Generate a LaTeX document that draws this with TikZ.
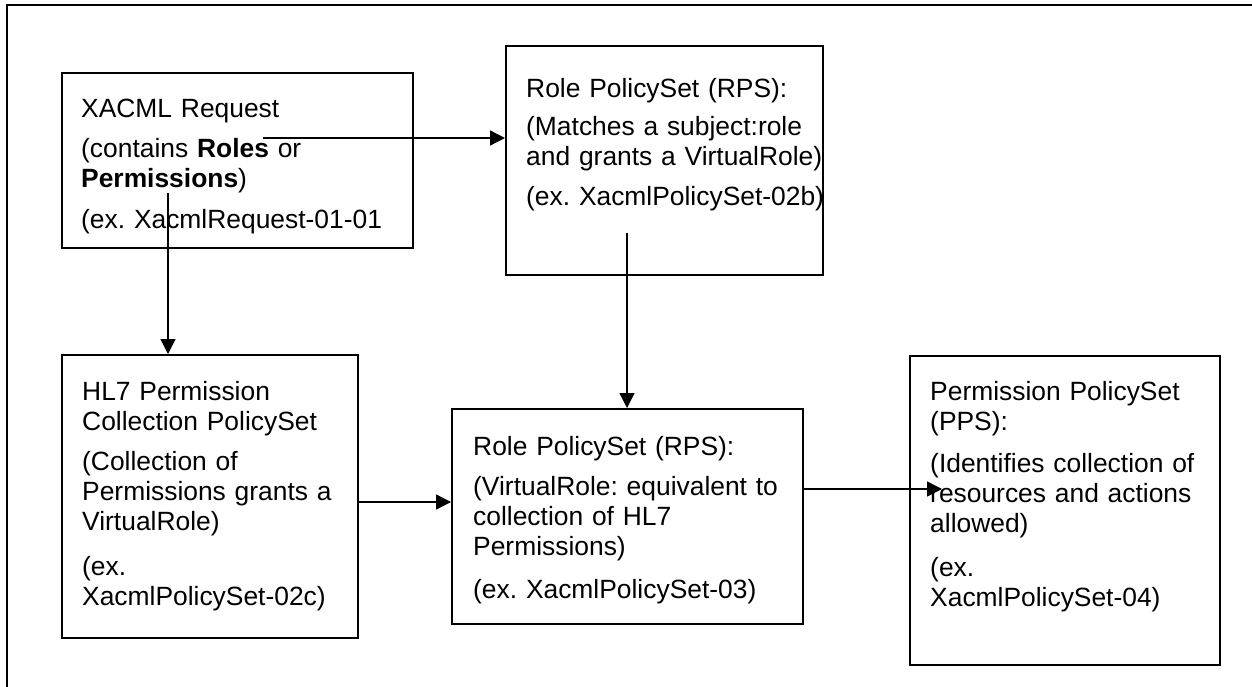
\documentclass[tikz,border=0pt]{standalone}
\usepackage{fontspec}
\setmainfont{Liberation Sans}
\usetikzlibrary{arrows.meta}
\frenchspacing
\begin{document}
\begin{tikzpicture}[x=1pt,y=-1pt,
  box/.style={draw=black,line width=2pt,rectangle,inner sep=0pt,anchor=north west},
  txt/.style={inner sep=0pt,anchor=base west,align=left,text width=420pt,font=\fontsize{26.4}{30.2}\selectfont},
  arr/.style={draw=black,line width=1.4pt,-{Triangle[length=15pt,width=15pt]}},
  frame/.style={draw=black,line width=2.2pt}]
\useasboundingbox (0,0) rectangle (1252,687);
\draw[frame] (7,687) -- (7,5) -- (1252,5);
% boxes
\node[box,minimum width=351pt,minimum height=175pt] (b1) at (61,72) {};
\node[box,minimum width=317pt,minimum height=229pt] (b2) at (505,45) {};
\node[box,minimum width=296pt,minimum height=283pt] (b3) at (61,354) {};
\node[box,minimum width=351pt,minimum height=215pt] (b4) at (451,408) {};
\node[box,minimum width=310pt,minimum height=309pt] (b5) at (909,355) {};
% texts
\node[txt] (t1) at (81,118) {XACML Request\\[9pt](contains \textbf{Roles} or\\\textbf{Permissions})\\[11pt](ex. XacmlRequest-01-01};
\node[txt] (t2) at (526,98) {Role PolicySet (RPS):\\[7pt](Matches a subject:role\\and grants a VirtualRole)\\[10pt](ex. XacmlPolicySet-02b)};
\node[txt] (t3) at (82,400) {HL7 Permission\\Collection PolicySet\\[10pt](Collection of\\Permissions grants a\\VirtualRole)\\[14pt](ex.\\XacmlPolicySet-02c)};
\node[txt] (t4) at (473,455) {Role PolicySet (RPS):\\[10pt](VirtualRole: equivalent to\\collection of HL7\\Permissions)\\[13pt](ex. XacmlPolicySet-03)};
\node[txt] (t5) at (930,400) {Permission PolicySet\\(PPS):\\[12pt](Identifies collection of\\resources and actions\\allowed)\\[13pt](ex.\\XacmlPolicySet-04)};
% connectors
\coordinate (s1) at (263,138);
\draw[arr] (s1) -- (s1 -| b2.west);
\coordinate (s2) at (168,193);
\draw[arr] (s2) -- (s2 |- b3.north);
\coordinate (s3) at (627,233);
\draw[arr] (s3) -- (s3 |- b4.north);
\coordinate (y4) at (0,502);
\draw[arr] (b3.east |- y4) -- (b4.west |- y4);
\coordinate (e5) at (942,489);
\draw[arr] (e5 -| b4.east) -- (e5);
\end{tikzpicture}
\end{document}
